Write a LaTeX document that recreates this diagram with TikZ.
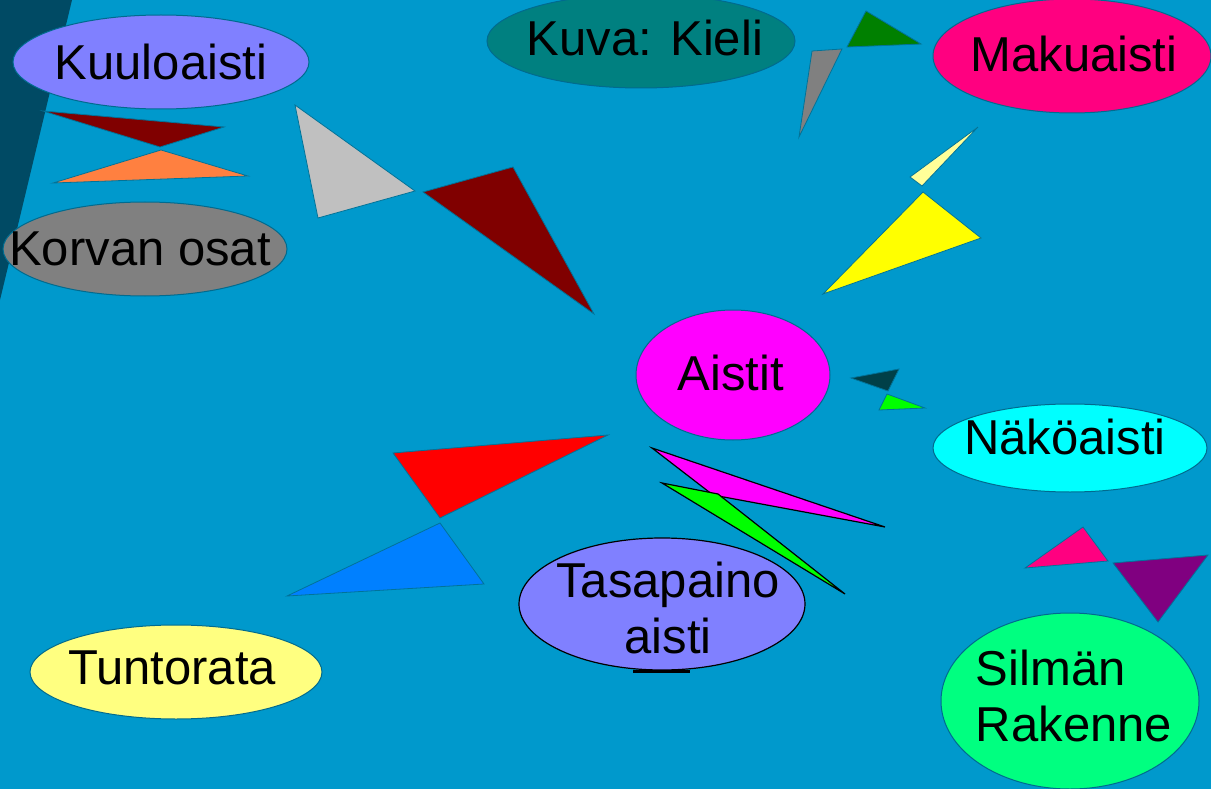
\documentclass[tikz,border=0pt]{standalone}
\usepackage{fontspec}
\setmainfont{Liberation Sans}
\definecolor{bg}{RGB}{0,153,204}
\definecolor{band}{RGB}{0,74,100}
\definecolor{lav}{RGB}{128,128,255}
\definecolor{tealc}{RGB}{0,128,128}
\definecolor{rose}{RGB}{255,0,128}
\definecolor{lyel}{RGB}{255,255,128}
\definecolor{spring}{RGB}{0,255,128}
\definecolor{maroon}{RGB}{128,0,0}
\definecolor{orangec}{RGB}{255,128,64}
\definecolor{silver}{RGB}{192,192,192}
\definecolor{greenc}{RGB}{0,128,0}
\definecolor{grayc}{RGB}{128,128,128}
\definecolor{paley}{RGB}{255,255,153}
\definecolor{slate}{RGB}{0,64,72}
\definecolor{lime}{RGB}{0,255,0}
\definecolor{azure}{RGB}{0,128,255}
\definecolor{purp}{RGB}{128,0,128}
\definecolor{magc}{RGB}{255,0,255}
\definecolor{cyanc}{RGB}{0,255,255}
\definecolor{yelc}{RGB}{255,255,0}
\definecolor{redc}{RGB}{255,0,0}
\tikzset{
  oval/.style={line width=1pt, draw=black!30!bg},
  label/.style={inner sep=0pt, font=\fontsize{49}{56}\selectfont, text=black},
  tri/.style={line width=0.8pt, draw=black!25!bg},
  trib/.style={line width=1.2pt, draw=black}
}
\begin{document}
\begin{tikzpicture}[x=1pt,y=-1pt]
\fill[bg] (0,0) rectangle (1211,789);
\useasboundingbox (0,0) rectangle (1211,789);
\fill[band] (0,0) -- (72,0) -- (0,300) -- cycle;

% ellipses
\filldraw[oval, fill=lav] (161,62) ellipse [x radius=148, y radius=47];
\node[label] (kuulo) at (161,62) {Kuuloaisti};
\filldraw[oval, fill=grayc] (145,249) ellipse [x radius=142, y radius=47];
\node[label] (korva) at (140,249) {Korvan osat};
\filldraw[oval, fill=tealc] (641,41) ellipse [x radius=154, y radius=47];
\node[label] (kuva) at (645,38) {Kuva: Kieli};
\filldraw[oval, fill=rose] (1072,56) ellipse [x radius=139, y radius=57];
\node[label] (maku) at (1074,54) {Makuaisti};
\filldraw[oval, fill=magc] (733,375) ellipse [x radius=97, y radius=65];
\node[label] (aistit) at (731,373) {Aistit};
\filldraw[oval, fill=cyanc] (1070,448) ellipse [x radius=137, y radius=44];
\node[label] (nako) at (1065,437) {Näköaisti};
\filldraw[line width=1.2pt, draw=black, fill=lav] (662,604) ellipse [x radius=143, y radius=66];
\node[label, align=center] (tasa) at (668,608) {Tasapaino\\aisti};
\filldraw[oval, fill=lyel] (176,672) ellipse [x radius=146, y radius=47];
\node[label] (tunto) at (172,668) {Tuntorata};
\filldraw[oval, fill=spring] (1070,701) ellipse [x radius=129, y radius=88];
\node[label, align=left] (silma) at (1074,696) {Silmän\\Rakenne};
\draw[line width=3pt] (633,671) -- (690,671);

% triangle pairs
\filldraw[tri, fill=maroon] (43,111) -- (224,127) -- (160,147) -- cycle;
\filldraw[tri, fill=orangec] (53,183) -- (161,150) -- (248,176) -- cycle;

\filldraw[tri, fill=silver] (295,105) -- (415,191) -- (318,218) -- cycle;
\filldraw[tri, fill=maroon] (423,192) -- (513,167) -- (594,314) -- cycle;

\filldraw[tri, fill=greenc] (866,11) -- (921,44) -- (847,47) -- cycle;
\filldraw[tri, fill=grayc] (812,51) -- (842,49) -- (799,137) -- cycle;

\filldraw[tri, fill=paley] (978,127) -- (910,177) -- (922,186) -- cycle;
\filldraw[tri, fill=yelc] (923,192) -- (981,238) -- (823,294) -- cycle;

\filldraw[tri, fill=slate] (851,378) -- (899,369) -- (888,391) -- cycle;
\filldraw[tri, fill=lime] (887,394) -- (925,408) -- (879,410) -- cycle;

\filldraw[tri, fill=redc] (393,453) -- (608,435) -- (440,518) -- cycle;
\filldraw[tri, fill=azure] (440,523) -- (484,584) -- (287,596) -- cycle;

\filldraw[trib, fill=magc] (652,448) -- (885,527) -- (713,495) -- cycle;
\filldraw[trib, fill=lime] (662,483) -- (718,494) -- (845,594) -- cycle;

\filldraw[tri, fill=rose] (1025,568) -- (1083,527) -- (1108,561) -- cycle;
\filldraw[tri, fill=purp] (1113,563) -- (1208,555) -- (1158,622) -- cycle;
\end{tikzpicture}
\end{document}
